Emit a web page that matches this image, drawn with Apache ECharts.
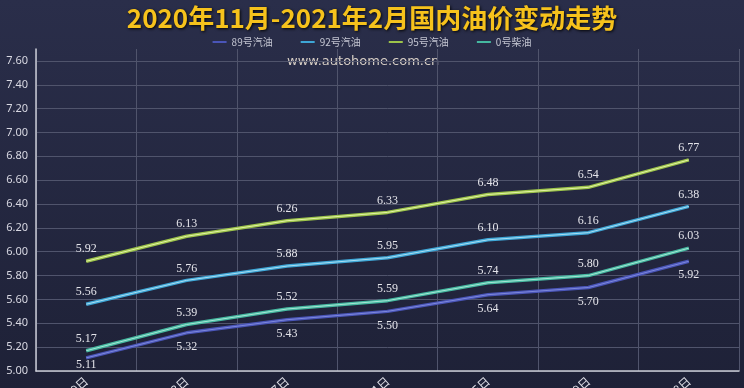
<!DOCTYPE html>
<html><head><meta charset="utf-8">
<script src="https://cdn.jsdelivr.net/npm/echarts@6/dist/echarts.min.js"></script>
<style>html,body{margin:0;padding:0;background:#262a42;}#c{width:744px;height:388px;}</style>
</head><body><div id="c"></div>
<script>
const categories = ['11月19日','12月3日','12月17日','12月31日','1月15日','1月29日','2月18日'];
const oil89 = [5.11, 5.32, 5.43, 5.50, 5.64, 5.70, 5.92];
const oil92 = [5.56, 5.76, 5.88, 5.95, 6.10, 6.16, 6.38];
const oil95 = [5.92, 6.13, 6.26, 6.33, 6.48, 6.54, 6.77];
const oil0  = [5.17, 5.39, 5.52, 5.59, 5.74, 5.80, 6.03];
const names = ['89号汽油','92号汽油','95号汽油','0号柴油'];
const yTicks = {min: 5.0, max: 7.7, interval: 0.2};

const colors = ['#4a55b8', '#3ea6d6', '#9cc34a', '#45b8a0'];
const inner = ['#7d88dc', '#a9def2', '#e3f3a6', '#a6e6d6'];
const datas = [oil89, oil92, oil95, oil0];
const labelFont = {fontFamily: 'Liberation Serif', fontSize: 12, color: '#e4e4ea'};

const series = [];
datas.forEach((d, i) => {
  series.push({
    name: names[i], type: 'line', symbol: 'circle', symbolSize: 0, showSymbol: true, z: 2,
    data: d.map((v, k) => (i === 0 && k === 0) ? {value: v, label: {distance: 1}} : v),
    lineStyle: {color: colors[i], width: 3.5},
    itemStyle: {color: colors[i]},
    label: Object.assign({show: true, position: i === 0 ? 'bottom' : 'top', distance: i === 0 ? 8 : 6,
      formatter: p => p.value.toFixed(2)}, labelFont)
  });
  series.push({
    name: names[i] + '_i', type: 'line', data: d, symbol: 'none', z: 3, silent: true,
    lineStyle: {color: inner[i], width: 1},
    tooltip: {show: false}
  });
});

const chart = echarts.init(document.getElementById('c'));
chart.setOption({
  animation: false,
  backgroundColor: {type: 'linear', x: 0, y: 0, x2: 0, y2: 1, colorStops: [
    {offset: 0, color: '#2a2e4a'}, {offset: 1, color: '#1e2137'}]},
  title: {text: '2020年11月-2021年2月国内油价变动走势', left: 'center', top: 0,
    textStyle: {color: '#f6c21c', fontSize: 26, fontWeight: 'bold', fontFamily: 'Noto Sans CJK SC',
      textShadowColor: 'rgba(0,0,0,0.9)', textShadowBlur: 3, textShadowOffsetX: 1, textShadowOffsetY: 1}},
  legend: {data: names, top: 32, left: 'center', itemWidth: 14, itemHeight: 2, itemGap: 28,
    icon: 'rect',
    textStyle: {color: '#c4c6d2', fontSize: 10, fontFamily: 'Noto Sans CJK SC'}},
  grid: {left: 36, right: 5, top: 49, bottom: 17, containLabel: false, outerBoundsMode: 'none'},
  graphic: [{type: 'text', left: 287, top: 55,
    style: {text: 'www.autohome.com.cn', fill: '#d8cfc6', fontSize: 13, fontFamily: 'DejaVu Sans'}}],
  xAxis: {type: 'category', data: categories, boundaryGap: true,
    axisLine: {lineStyle: {color: '#c8cad4', width: 1.5}},
    axisTick: {show: false},
    axisLabel: {rotate: 42, color: '#e0e0e8', fontSize: 12, margin: 8, fontFamily: 'Noto Sans CJK SC'},
    splitLine: {show: true, lineStyle: {color: '#50546c', width: 1}}},
  yAxis: {type: 'value', min: yTicks.min, max: yTicks.max, interval: yTicks.interval,
    axisLine: {show: true, lineStyle: {color: '#c8cad4', width: 1.5}},
    axisTick: {show: false},
    axisLabel: {color: '#d8d8e2', fontSize: 11, margin: 8, showMaxLabel: false,
      fontFamily: 'Noto Sans', formatter: v => v.toFixed(2)},
    splitLine: {show: true, showMaxLine: false, lineStyle: {color: '#50546c', width: 1}}},
  series: series
});
</script></body></html>
